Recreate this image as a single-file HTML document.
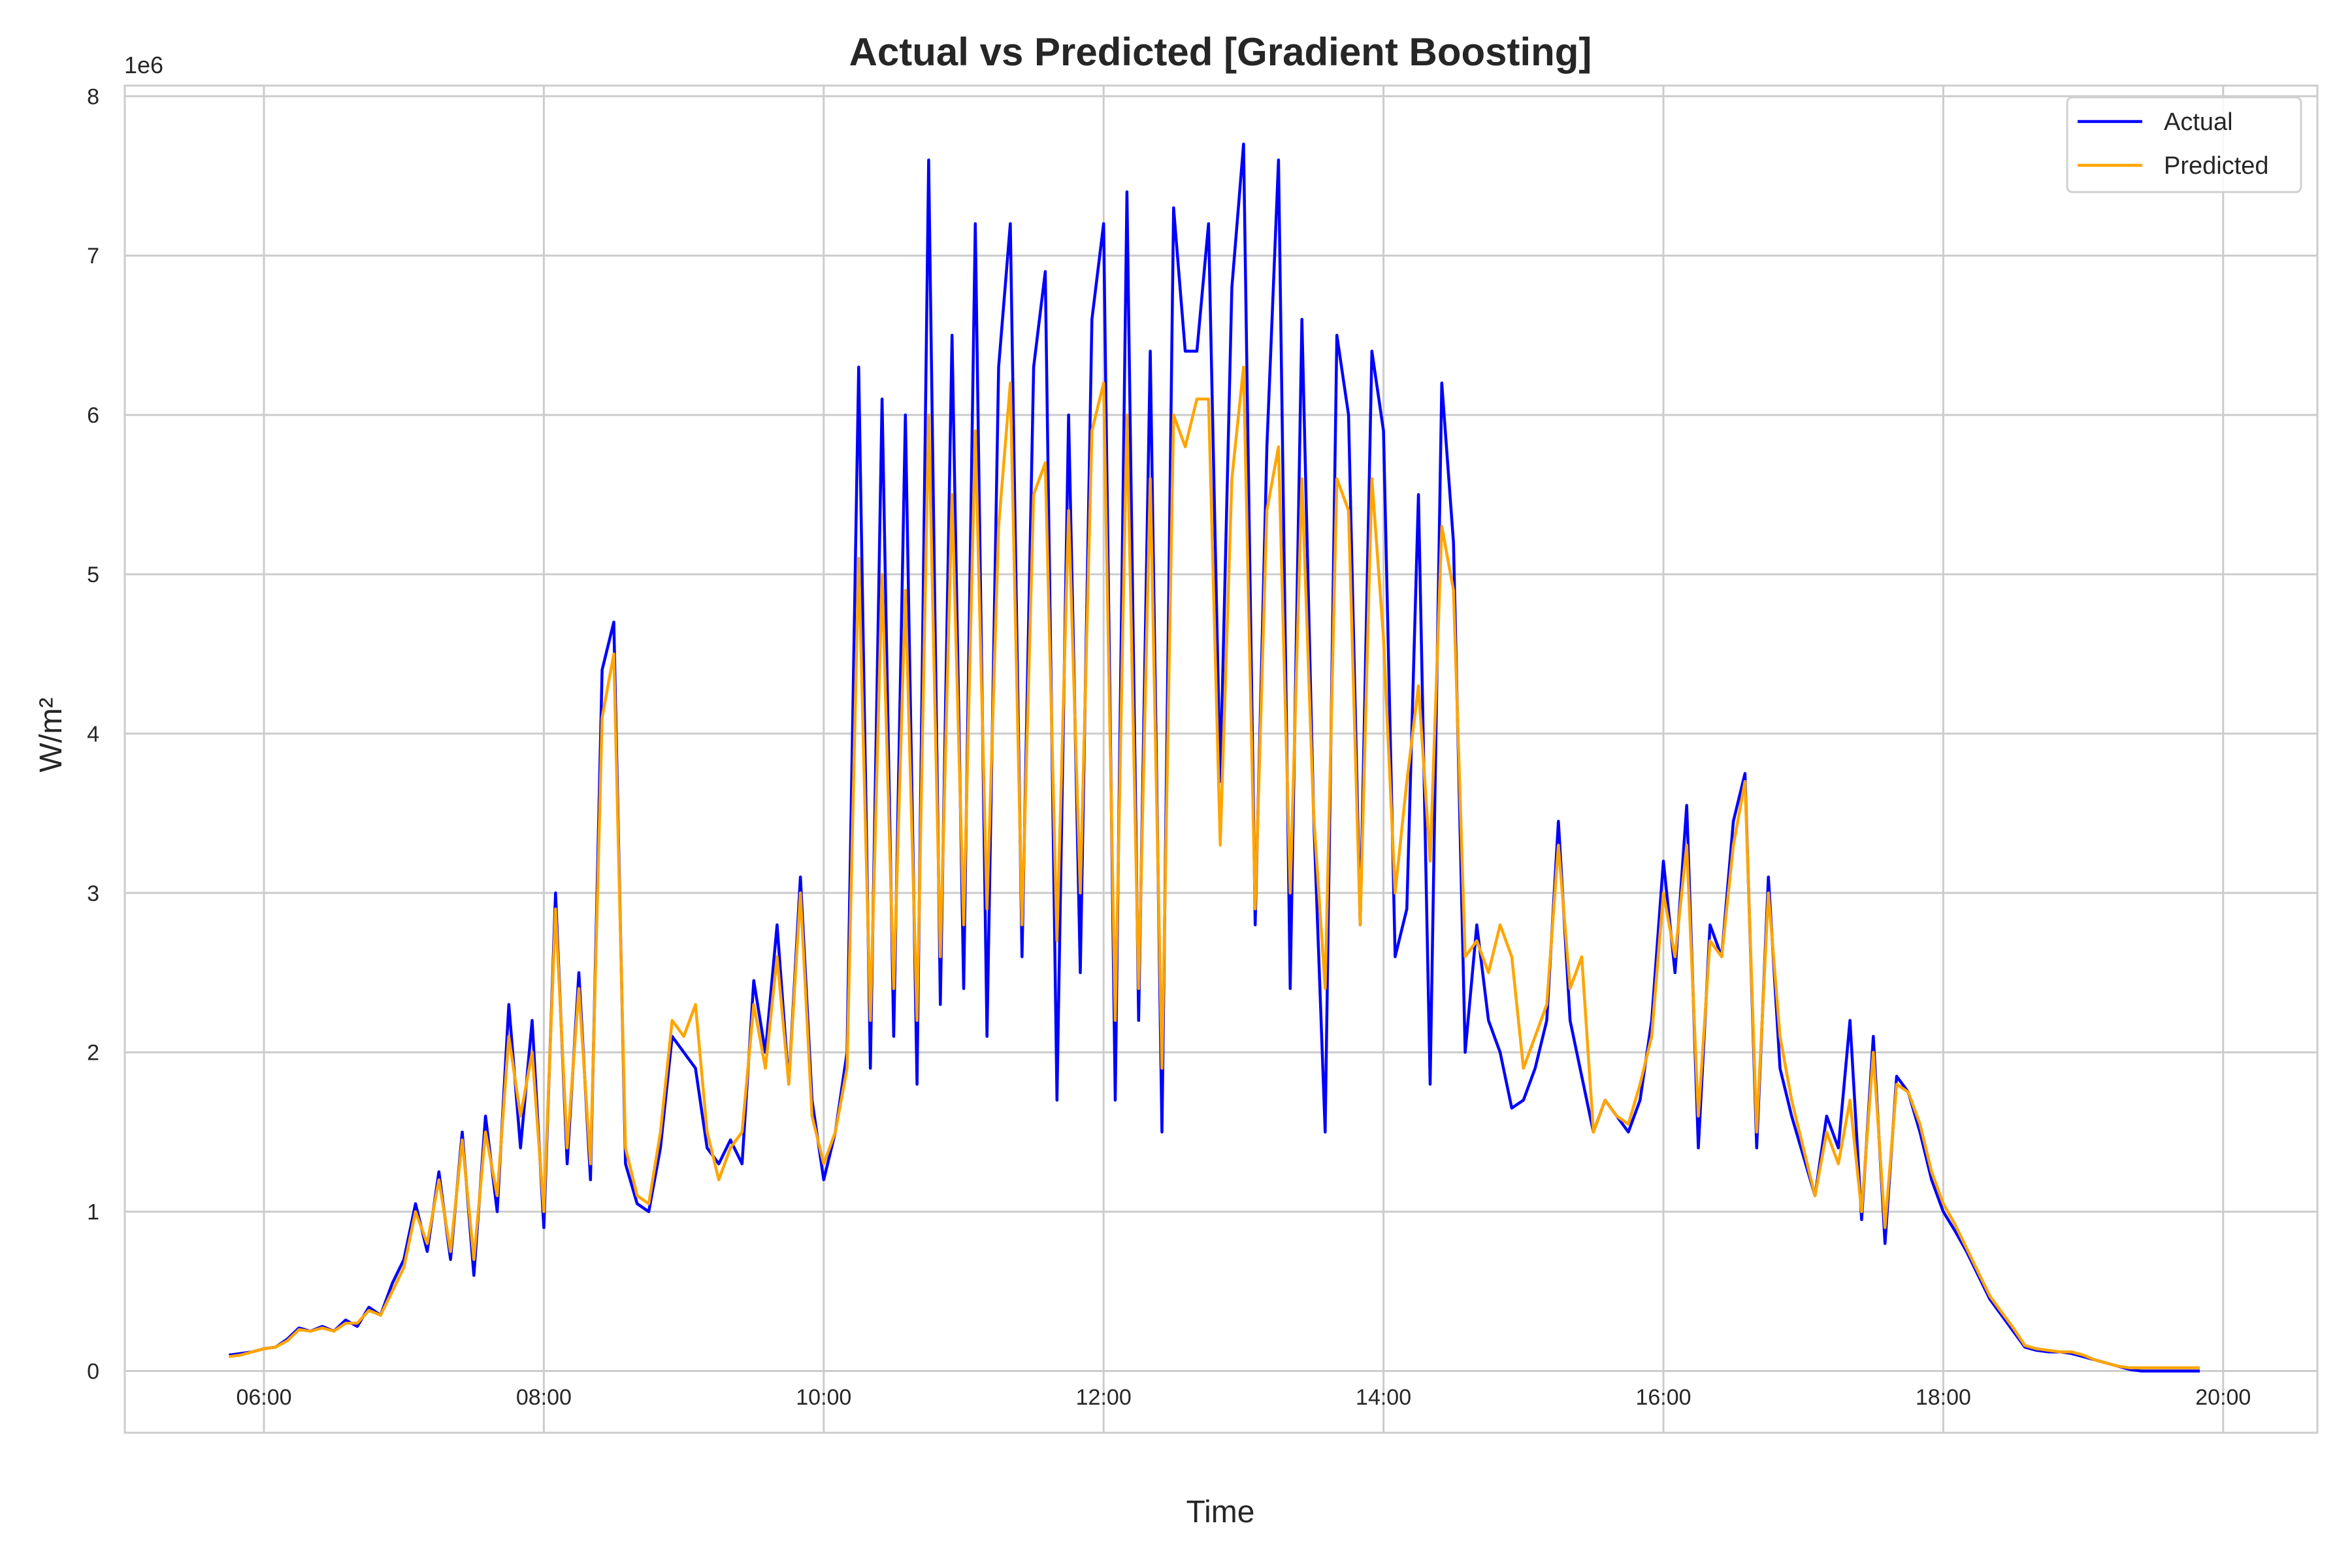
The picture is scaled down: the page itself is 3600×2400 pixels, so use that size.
<!DOCTYPE html>
<html><head><meta charset="utf-8"><style>
html,body{margin:0;padding:0;background:#fff}
svg{display:block}
text{font-family:"Liberation Sans","DejaVu Sans",sans-serif;fill:#262626}
</style></head><body>
<svg id="chart" width="3600" height="2400" viewBox="0 0 3600 2400" xmlns="http://www.w3.org/2000/svg">
<rect x="0" y="0" width="3600" height="2400" fill="#fff"/>
<g id="grid"></g>
<g id="series"></g>
<rect x="191" y="131" width="3356" height="2062" fill="none" stroke="#cccccc" stroke-width="3"/>
<g id="ticks"></g>
<text x="1868" y="100" text-anchor="middle" font-size="60" font-weight="bold">Actual vs Predicted [Gradient Boosting]</text>
<text x="190" y="112" font-size="36">1e6</text>
<text x="1868" y="2330" text-anchor="middle" font-size="48">Time</text>
<text x="0" y="0" transform="translate(94,1125) rotate(-90)" text-anchor="middle" font-size="48">W/m²</text>
<g>
<rect x="3164" y="149" width="358" height="145" rx="8" fill="#fff" fill-opacity="0.85" stroke="#d0d0d0" stroke-width="3"/>
<g>
<line x1="3180" y1="186" x2="3279" y2="186" stroke="#0000ff" stroke-width="4.5"/>
<text x="3312" y="199" font-size="38">Actual</text></g>
<g>
<line x1="3180" y1="253" x2="3279" y2="253" stroke="#ffa500" stroke-width="4.5"/>
<text x="3312" y="266" font-size="38">Predicted</text></g>
</g>
</svg>
<script>
// Data (values in 1e6 W/m²), sampled every 5 minutes starting at 05:45
const startMinute = 345;
const stepMinutes = 5;
const actualValues = [
0.1,0.11,0.12,
0.14,0.15,0.2,0.27,0.25,0.28,0.25,0.32,0.28,0.4,0.35,0.55,
0.7,1.05,0.75,1.25,0.7,1.5,0.6,1.6,1.0,2.3,1.4,2.2,
0.9,3.0,1.3,2.5,1.2,4.4,4.7,1.3,1.05,1.0,1.4,2.1,
2.0,1.9,1.4,1.3,1.45,1.3,2.45,2.0,2.8,1.8,3.1,1.7,
1.2,1.5,2.0,6.3,1.9,6.1,2.1,6.0,1.8,7.6,2.3,6.5,
2.4,7.2,2.1,6.3,7.2,2.6,6.3,6.9,1.7,6.0,2.5,6.6,
7.2,1.7,7.4,2.2,6.4,1.5,7.3,6.4,6.4,7.2,3.7,6.8,
7.7,2.8,5.8,7.6,2.4,6.6,3.5,1.5,6.5,6.0,2.8,6.4,
5.9,2.6,2.9,5.5,1.8,6.2,5.2,2.0,2.8,2.2,2.0,1.65,
1.7,1.9,2.2,3.45,2.2,1.85,1.5,1.7,1.6,1.5,1.7,2.2,
3.2,2.5,3.55,1.4,2.8,2.6,3.45,3.75,1.4,3.1,1.9,1.6,
1.35,1.1,1.6,1.4,2.2,0.95,2.1,0.8,1.85,1.75,1.5,1.2,
1.0,0.88,0.75,0.6,0.45,0.35,0.25,0.15,0.13,0.12,0.12,0.11,
0.09,0.07,0.05,0.03,0.01,0.0,0.0,0.0,0.0,0.0,0.0
];
const predictedValues = [
0.09,0.1,0.12,
0.14,0.15,0.19,0.26,0.25,0.27,0.25,0.3,0.3,0.38,0.35,0.5,
0.65,1.0,0.8,1.2,0.75,1.45,0.7,1.5,1.1,2.1,1.6,2.0,
1.0,2.9,1.4,2.4,1.3,4.1,4.5,1.4,1.1,1.05,1.5,2.2,
2.1,2.3,1.5,1.2,1.4,1.5,2.3,1.9,2.6,1.8,3.0,1.6,
1.3,1.5,1.9,5.1,2.2,5.0,2.4,4.9,2.2,6.0,2.6,5.5,
2.8,5.9,2.9,5.3,6.2,2.8,5.5,5.7,2.7,5.4,3.0,5.9,
6.2,2.2,6.0,2.4,5.6,1.9,6.0,5.8,6.1,6.1,3.3,5.6,
6.3,2.9,5.4,5.8,3.0,5.6,3.5,2.4,5.6,5.4,2.8,5.6,
4.6,3.0,3.7,4.3,3.2,5.3,4.9,2.6,2.7,2.5,2.8,2.6,
1.9,2.1,2.3,3.3,2.4,2.6,1.5,1.7,1.6,1.55,1.8,2.1,
3.0,2.6,3.3,1.6,2.7,2.6,3.3,3.7,1.5,3.0,2.1,1.7,
1.4,1.1,1.5,1.3,1.7,1.0,2.0,0.9,1.8,1.75,1.55,1.25,
1.05,0.92,0.77,0.62,0.47,0.37,0.27,0.16,0.14,0.13,0.12,0.12,
0.1,0.07,0.05,0.03,0.02,0.02,0.02,0.02,0.02,0.02,0.02
];
const yTicks = [0,1,2,3,4,5,6,7,8];
const xTickMinutes = [360,480,600,720,840,960,1080,1200];
const xTickLabels = ["06:00","08:00","10:00","12:00","14:00","16:00","18:00","20:00"];

const NS = "http://www.w3.org/2000/svg";
function xScale(m){ return 404 + (m - 360) / 60 * 214.2; }
function yScale(v){ return 2098.5 - v * 243.9; }

const grid = document.getElementById('grid');
const ticks = document.getElementById('ticks');
yTicks.forEach(function(v){
  const l = document.createElementNS(NS,'line');
  
  
  l.setAttribute('x1',191); l.setAttribute('x2',3547);
  l.setAttribute('y1',yScale(v)); l.setAttribute('y2',yScale(v));
  l.setAttribute('stroke','#cccccc'); l.setAttribute('stroke-width','3');
  grid.appendChild(l);
  const t = document.createElementNS(NS,'text');
  
  
  t.setAttribute('x',152); t.setAttribute('y',yScale(v)+12);
  t.setAttribute('text-anchor','end'); t.setAttribute('font-size','34');
  t.textContent = String(v);
  ticks.appendChild(t);
});
xTickMinutes.forEach(function(m,i){
  const l = document.createElementNS(NS,'line');
  
  
  l.setAttribute('x1',xScale(m)); l.setAttribute('x2',xScale(m));
  l.setAttribute('y1',131); l.setAttribute('y2',2193);
  l.setAttribute('stroke','#cccccc'); l.setAttribute('stroke-width','3');
  grid.appendChild(l);
  const t = document.createElementNS(NS,'text');
  
  
  t.setAttribute('x',xScale(m)); t.setAttribute('y',2150);
  t.setAttribute('text-anchor','middle'); t.setAttribute('font-size','34');
  t.textContent = xTickLabels[i];
  ticks.appendChild(t);
});
function drawLine(vals, color, name){
  const pts = vals.map(function(v,i){ return xScale(startMinute + i*stepMinutes).toFixed(1)+','+yScale(v).toFixed(1); });
  const p = document.createElementNS(NS,'polyline');
  
  
  p.setAttribute('points', pts.join(' '));
  p.setAttribute('fill','none'); p.setAttribute('stroke',color);
  p.setAttribute('stroke-width','4.5'); p.setAttribute('stroke-linejoin','round');
  document.getElementById('series').appendChild(p);
}
drawLine(actualValues,'#0000ff','actual-line');
drawLine(predictedValues,'#ffa500','predicted-line');
</script>
</body></html>
